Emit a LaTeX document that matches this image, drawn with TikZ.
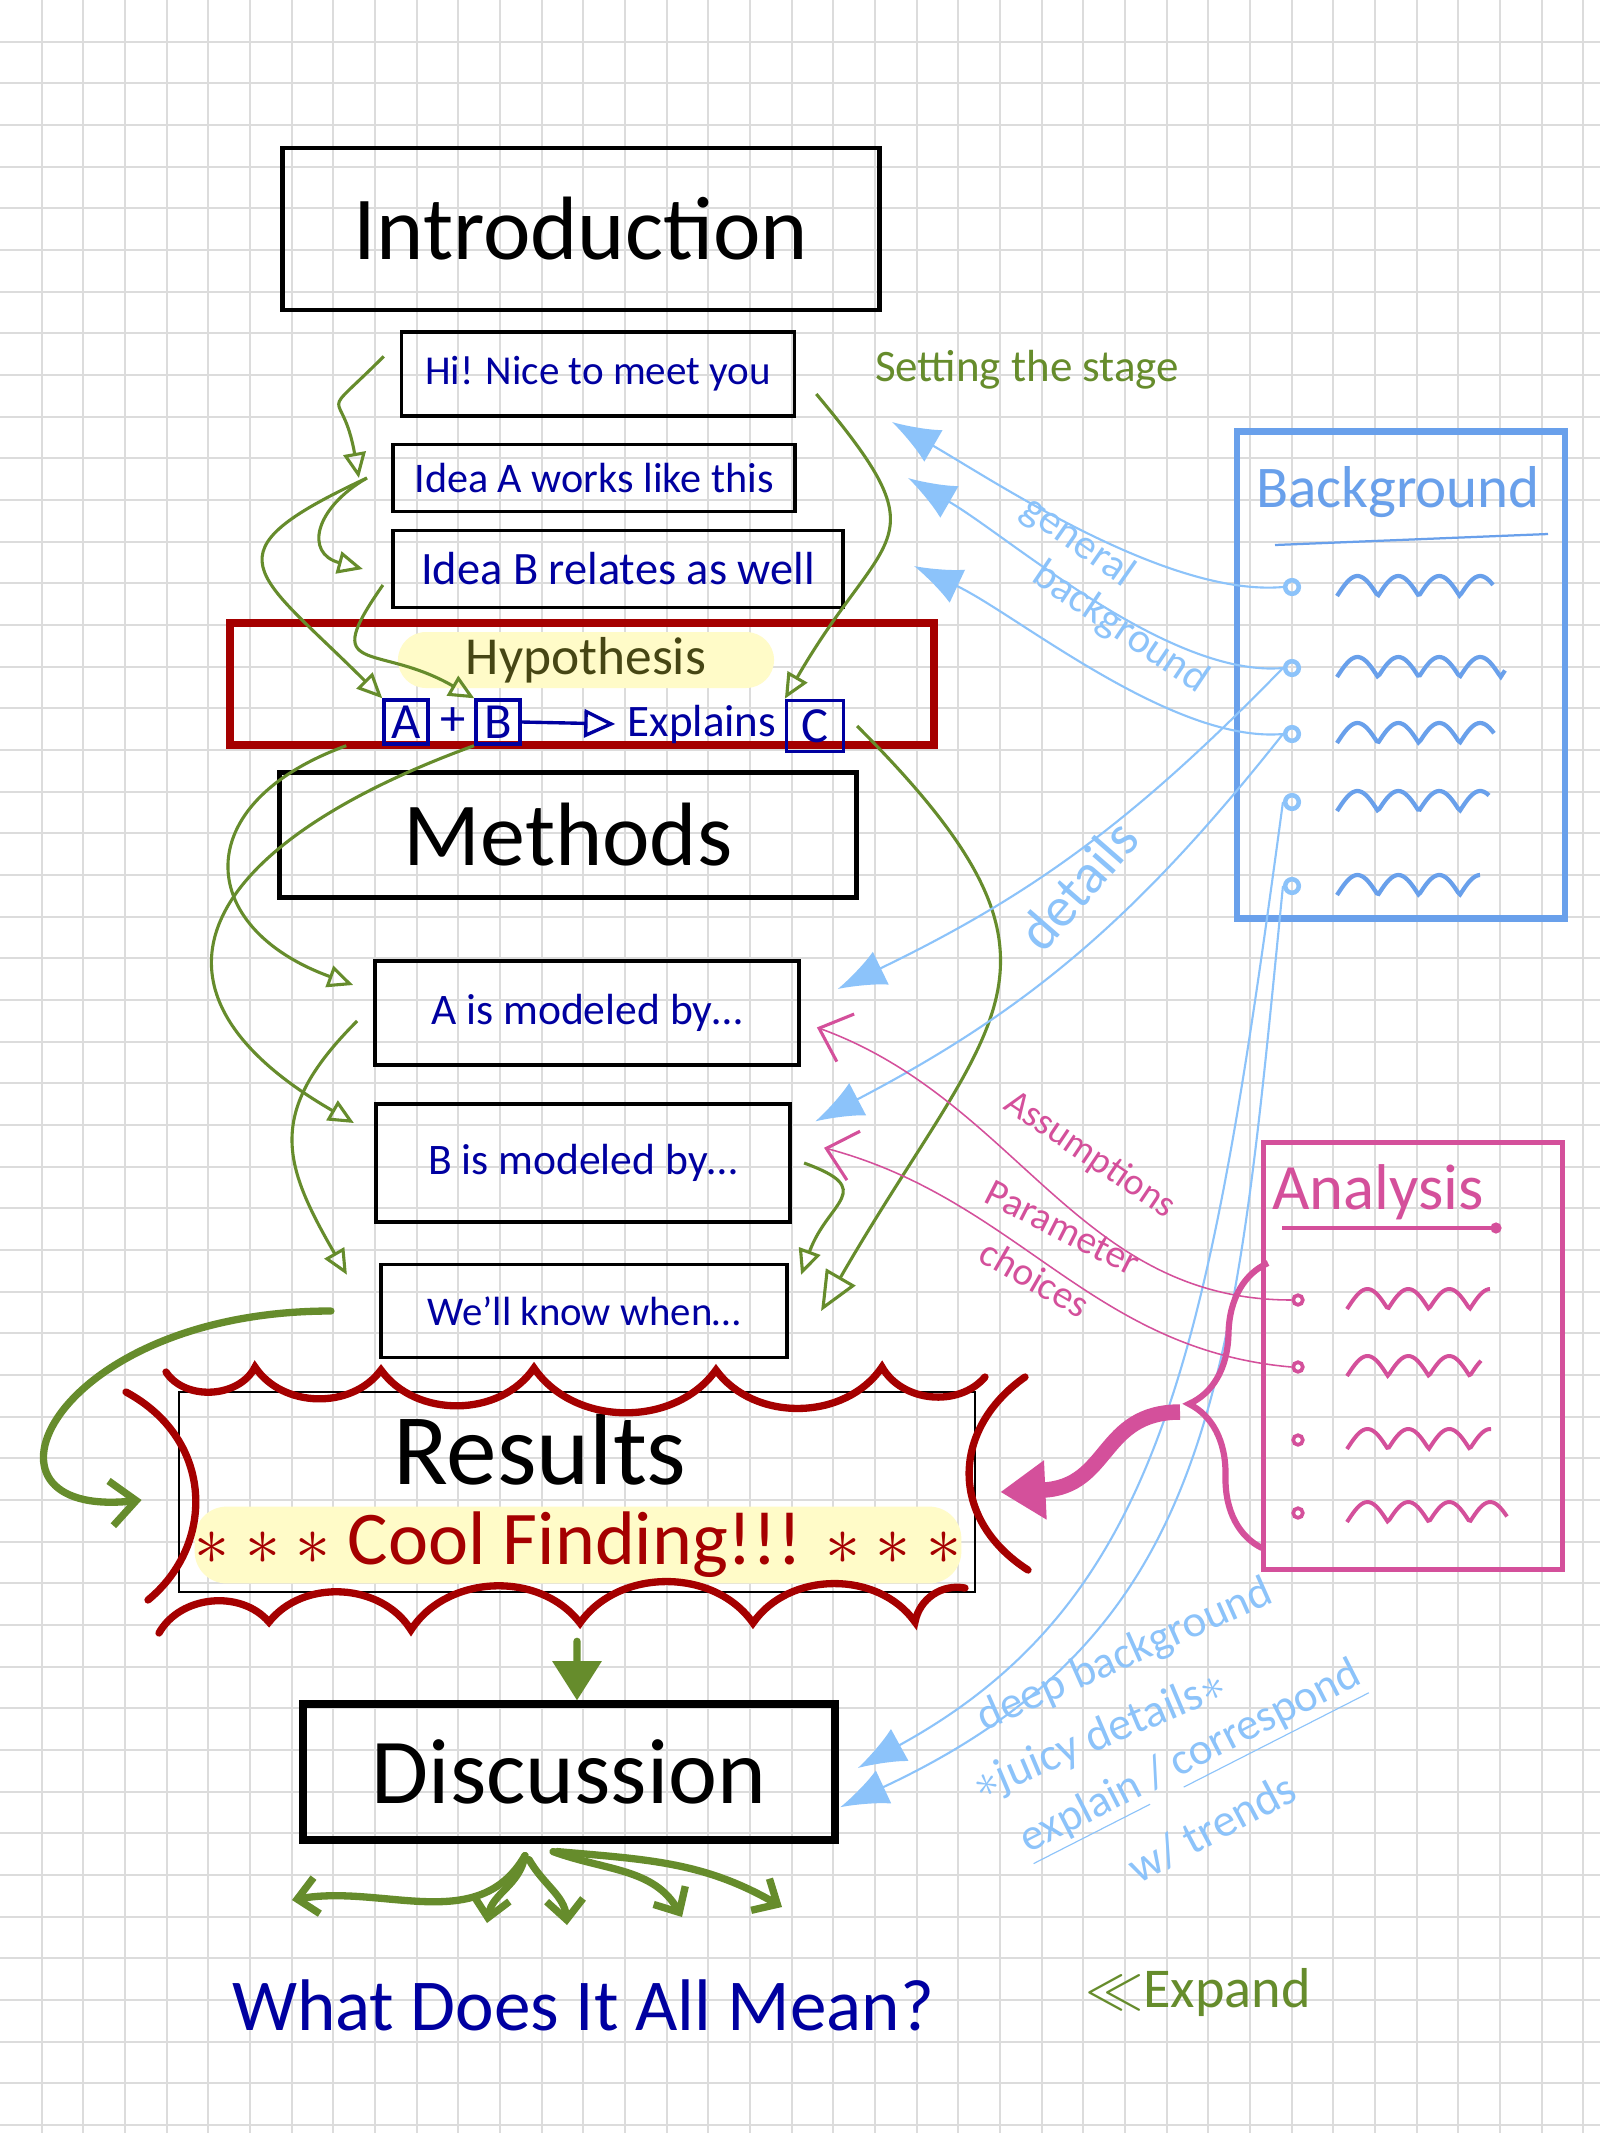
\documentclass[tikz,border=0pt]{standalone}
\usepackage{fontspec}
\setmainfont{Carlito}
\usetikzlibrary{arrows.meta}
\usetikzlibrary{decorations.pathreplacing}
\definecolor{hgreen}{RGB}{102,140,44}
\definecolor{hnavy}{RGB}{0,0,160}
\definecolor{hred}{RGB}{165,0,0}
\definecolor{hlite}{RGB}{255,251,200}
\definecolor{skyblue}{RGB}{140,195,250}
\definecolor{bgblue}{RGB}{105,160,235}
\definecolor{hpink}{RGB}{212,80,155}
\definecolor{holive}{RGB}{70,70,20}
\definecolor{gridgray}{RGB}{220,220,220}
\newcommand{\fs}[2]{\fontsize{#1pt}{#2pt}\selectfont}
\newcommand{\squig}[3]{\draw[#3, shift={(#1)}] plot[domain=0:#2, samples=80] (\x,{-20*abs(sin(4.4*\x))});}
\tikzset{
  gridline/.style={draw=gridgray, line width=0.7pt},
  hbox/.style={draw=black, line width=1.3pt, inner sep=0pt, text=hnavy, font=\fs{15.5}{18}},
  titlebox/.style={draw=black, line width=1.5pt, inner sep=0pt, font=\fs{32}{36}},
  letterbox/.style={draw=hnavy, line width=1.2pt, inner sep=0pt, text=hnavy, font=\fs{18}{20}},
  lbl/.style={inner sep=0pt},
  garrow/.style={draw=hgreen, line width=1.1pt, -{Triangle[open, length=9pt, width=8pt]}},
  gthick/.style={draw=hgreen, line width=2.6pt, line cap=round, -{Straight Barb[length=7pt, width=13pt]}},
  barrow/.style={draw=skyblue, line width=0.75pt, -{Latex[length=17pt, width=13pt]}},
  parrow/.style={draw=hpink, line width=0.55pt, -{Straight Barb[length=10pt, width=18pt, line width=1.1pt]}},
  bgdot/.style={circle, draw=skyblue, line width=1.6pt, minimum size=0.17cm, inner sep=0pt},
  anadot/.style={circle, draw=hpink, line width=1.3pt, minimum size=0.12cm, inner sep=0pt}
}
\begin{document}
\begin{tikzpicture}[x=0.0125cm, y=-0.0125cm]
\fill[white] (0,0) rectangle (1600,2133);
\useasboundingbox (0,0) rectangle (1600,2133);
% paper grid
\foreach \gx in {1,...,38} {
  \draw[gridline] (\gx*41.667,0) -- (\gx*41.667,2133);
  };
\foreach \gy in {1,...,51} {
  \draw[gridline] (0,\gy*41.667) -- (1600,\gy*41.667);
  };

% introduction column
\node[titlebox, minimum width=7.46cm, minimum height=2.03cm] (intro) at (581,229) {Introduction};
\node[hbox, minimum width=4.91cm, minimum height=1.05cm, font=\fs{14.6}{17}] (hi) at (598,374) {Hi! Nice to meet you};
\node[hbox, minimum width=5.03cm, minimum height=0.84cm, font=\fs{15}{17}] (ideaA) at (594,478) {Idea A works like this};
\node[hbox, minimum width=5.63cm, minimum height=0.96cm, font=\fs{16.5}{19}] (ideaB) at (618,569) {Idea B relates as well};
\node[lbl, text=hgreen, font=\fs{16}{18}] (stage) at (1027,370) {Setting the stage};

% hypothesis
\node[draw=hred, line width=2.8pt, minimum width=8.8cm, minimum height=1.53cm] (hyp) at (582,684) {};
\node[fill=hlite, rounded corners=0.35cm, inner sep=0pt, minimum width=4.7cm, minimum height=0.7cm, text=holive, font=\fs{19}{21}] (hyptitle) at (586,660) {Hypothesis};
\node[letterbox, minimum size=0.55cm] (boxA) at (406,722) {A};
\node[lbl, text=hnavy, font=\fs{18}{20}] (plus) at (453,722) {+};
\node[letterbox, minimum size=0.55cm] (boxB) at (498,722) {B};
\node[lbl, text=hnavy, font=\fs{16}{18}] (explains) at (702,724) {Explains};
\node[letterbox, minimum width=0.71cm, minimum height=0.64cm] (boxC) at (815,726) {C};
\draw[hnavy, line width=1.2pt, -{Triangle[open, length=11pt, width=10pt]}] (boxB.east) -- ([xshift=-0.15cm]explains.west);

% methods column
\node[titlebox, minimum width=7.21cm, minimum height=1.56cm] (methods) at (568,835) {Methods};
\node[hbox, minimum width=5.3cm, minimum height=1.3cm] (modA) at (587,1013) {A is modeled by\dots};
\node[hbox, minimum width=5.18cm, minimum height=1.48cm] (modB) at (583,1163) {B is modeled by\dots};
\node[hbox, minimum width=5.08cm, minimum height=1.16cm, font=\fs{14.5}{17}] (know) at (584,1311) {We'll know when\dots};

% results
\node[draw=black, line width=0.9pt, minimum width=9.95cm, minimum height=2.5cm] (results) at (577,1492) {};
\node[lbl, font=\fs{36}{40}] (restitle) at (540,1450) {Results};
\node[fill=hlite, rounded corners=0.4cm, inner sep=0pt, minimum width=9.56cm, minimum height=0.96cm, text=hred, font=\fs{27}{30}] (cool) at (578,1545) {$\ast\ast\ast$ Cool Finding!!! $\ast\ast\ast$};
\begin{scope}[hred, line width=2.6pt, line cap=round]
\draw (166,1372) to[bend right=60] (255,1367) to[bend right=55] (381,1370) to[bend right=55] (534,1368) to[bend right=55] (716,1370) to[bend right=55] (882,1367) to[bend right=55] (985,1377);
\draw (159,1633) to[bend left=55] (269,1622) to[bend left=55] (411,1630) to[bend left=55] (580,1623) to[bend left=55] (753,1623) to[bend left=55] (915,1622) to[bend left=45] (965,1588);
\draw (126,1392) .. controls (215,1440) and (215,1545) .. (148,1600);
\draw (1025,1377) .. controls (950,1430) and (950,1520) .. (1028,1570);
\end{scope}

% discussion
\node[draw=black, line width=2.8pt, minimum width=6.64cm, minimum height=1.69cm, font=\fs{33}{36}] (disc) at (569,1772) {Discussion};
\node[lbl, text=hnavy, font=\fs{26}{30}] (meaning) at (583,2005) {What Does It All Mean?};
\node[lbl, text=hgreen, font=\fs{20}{24}] (expand) at (1198,1992) {$\ll$Expand};

% background list
\node[draw=bgblue, line width=2.4pt, minimum width=4.1cm, minimum height=6.08cm] (bgbox) at (1401,675) {};
\node[lbl, text=bgblue, font=\fs{21}{24}] (bgtitle) at (1398,492) {Background};
\draw[bgblue, line width=0.8pt] (1275,545) -- (1548,534);
\foreach \by [count=\i] in {587,668,734,802,886} {
  \node[bgdot] (bg\i) at (1292,\by) {};
}
\foreach \by/\len in {587/156,668/168,734/157,802/152,886/143} {
  \squig{1337,\by+9}{\len}{bgblue, line width=1.5pt}
}

% analysis list
\node[draw=hpink, line width=1.8pt, minimum width=3.73cm, minimum height=5.34cm] (anabox) at (1413,1356) {};
\node[lbl, text=hpink, font=\fs{23}{26}] (anatitle) at (1378,1192) {Analysis};
\draw[hpink, line width=1.1pt] (1282,1228) -- (1496,1228);
\fill[hpink] (1496,1228) circle (2pt);
\foreach \ay [count=\i] in {1300,1367,1440,1513} {
  \node[anadot] (an\i) at (1298,\ay) {};
}
\foreach \ay/\len in {1300/143,1367/134,1440/144,1513/160} {
  \squig{1347,\ay+9}{\len}{hpink, line width=1.4pt}
}

% labels on the connectors
\node[lbl, text=skyblue, rotate=-35, font=\fs{15}{17}] (genlbl) at (1078,542) {general};
\node[lbl, text=skyblue, rotate=-34, font=\fs{15}{17}] (bglbl) at (1120,628) {background};
\node[lbl, text=skyblue, rotate=49, font=\fs{20}{22}] (detlbl) at (1078,885) {details};
\node[lbl, text=hpink, rotate=-34, font=\fs{13.5}{15}] (asslbl) at (1090,1155) {Assumptions};
\node[lbl, text=hpink, rotate=-27, font=\fs{14}{16}] (parlbl) at (1063,1228) {Parameter};
\node[lbl, text=hpink, rotate=-30, font=\fs{14}{16}] (chlbl) at (1035,1278) {choices};
\node[lbl, text=skyblue, rotate=24, font=\fs{16}{18}] (deeplbl) at (1125,1656) {deep background};
\node[lbl, text=skyblue, rotate=23, font=\fs{16.5}{18}] (juicylbl) at (1100,1737) {$\ast$juicy details$\ast$};
\node[lbl, text=skyblue, rotate=27, font=\fs{16}{18}] (explbl) at (1192,1760) {\underline{explain} / \underline{correspond}};
\node[lbl, text=skyblue, rotate=28, font=\fs{16.5}{18}] (trendlbl) at (1212,1828) {w/ trends};

% green flow arrows
\draw[garrow] ([xshift=-0.2cm,yshift=0.22cm]hi.west) to[out=225,in=100,looseness=2] ([xshift=-0.4cm]ideaA.west);
\draw[garrow] ([xshift=-0.3cm]ideaA.west) to[out=210,in=165,looseness=1.7] ([xshift=-0.35cm]ideaB.west);
\draw[garrow] ([xshift=-0.3cm]ideaA.west) to[out=205,in=135,looseness=2.1] (boxA.north west);
\draw[garrow] ([xshift=-0.1cm,yshift=-0.2cm]ideaB.west) to[out=235,in=150,looseness=2] (boxB.north west);
\draw[garrow] ([xshift=0.25cm,yshift=-0.25cm]hi.east) to[out=-50,in=60,looseness=1.67] (boxC.north west);
\draw[garrow, -{Triangle[open, length=14pt, width=12pt]}] ([xshift=0.15cm]boxC.east) to[out=-45,in=60,looseness=1.5] ([xshift=0.4cm]know.east);
\draw[garrow] ([xshift=-0.45cm]boxA.south west) to[out=200,in=160,looseness=1.8] ([xshift=-0.25cm,yshift=0.35cm]modA.west);
\draw[garrow] ([xshift=-0.3cm]boxB.south) to[out=200,in=150,looseness=1.8] ([xshift=-0.25cm,yshift=0.5cm]modB.west);
\draw[garrow] ([xshift=-0.2cm,yshift=-0.1cm]modA.west) to[out=225,in=120,looseness=1.3] ([xshift=-0.4cm,yshift=-0.15cm]know.north west);
\draw[garrow] ([xshift=0.15cm]modB.east) to[out=-20,in=70,looseness=1.8] ([xshift=0.15cm,yshift=-0.15cm]know.north east);
\draw[gthick, -{Straight Barb[length=9pt, width=16pt]}] ([xshift=-0.6cm]know.west) .. controls +(-280,0) and +(-185,20) .. ([xshift=-0.45cm,yshift=-0.1cm]results.west);
\draw[gthick, -{Triangle[length=14pt, width=17pt]}] ([yshift=-0.6cm]results.south) -- ([xshift=0.1cm]disc.north);

% what it all means
\coordinate (m1) at (292,1900);
\coordinate (m2) at (487,1923);
\coordinate (m3) at (567,1925);
\coordinate (m4) at (682,1917);
\coordinate (m5) at (782,1907);
\draw[gthick] ([xshift=-0.55cm,yshift=-0.15cm]disc.south) to[out=-120,in=10] (m1);
\draw[gthick] ([xshift=-0.55cm,yshift=-0.15cm]disc.south) to[out=-100,in=80] (m2);
\draw[gthick] ([xshift=-0.5cm,yshift=-0.2cm]disc.south) to[out=-60,in=95] (m3);
\draw[gthick] ([xshift=-0.2cm,yshift=-0.1cm]disc.south) to[out=-20,in=120] (m4);
\draw[gthick] ([xshift=-0.15cm,yshift=-0.1cm]disc.south) to[out=-5,in=150] (m5);

% background feeds
\coordinate (gb1) at (892,422);
\coordinate (gb2) at (908,478);
\coordinate (gb3) at (914,566);
\draw[barrow] (bg1.west) to[out=185,in=-30,looseness=0.7] (gb1);
\draw[barrow] (bg2.west) to[out=185,in=-30,looseness=0.7] (gb2);
\draw[barrow] (bg3.west) to[out=185,in=-25,looseness=0.7] (gb3);
\draw[barrow] (bg2.west) to[bend left=10] ([xshift=0.46cm,yshift=0.3cm]modA.east);
\draw[barrow] (bg3.west) to[bend left=12] ([xshift=0.29cm,yshift=0.52cm]modB.east);
\draw[barrow] (bg4.west) .. controls +(-74,548) and +(306,-168) .. ([xshift=0.24cm,yshift=0.05cm]disc.east);
\draw[barrow] (bg5.west) .. controls +(-49,494) and +(379,-177) .. ([xshift=0.02cm,yshift=-0.44cm]disc.east);

% analysis feeds
\draw[parrow] (an1.west) to[out=180,in=-20] ([xshift=0.2cm,yshift=-0.18cm]modA.east);
\draw[parrow] (an2.west) to[out=175,in=-15] ([xshift=0.4cm,yshift=0.19cm]modB.east);
\draw[hpink, line width=2.2pt, decorate, decoration={brace, amplitude=0.95cm, aspect=0.5}] (1262,1548) -- (1268,1263);
\coordinate (bracetip) at (1180,1412);
\draw[hpink, line width=5.5pt, -{Triangle[length=16pt, width=20pt]}] (bracetip) .. controls +(-80,0) and +(110,-5) .. ([xshift=0.3cm]results.east);
\end{tikzpicture}
\end{document}
